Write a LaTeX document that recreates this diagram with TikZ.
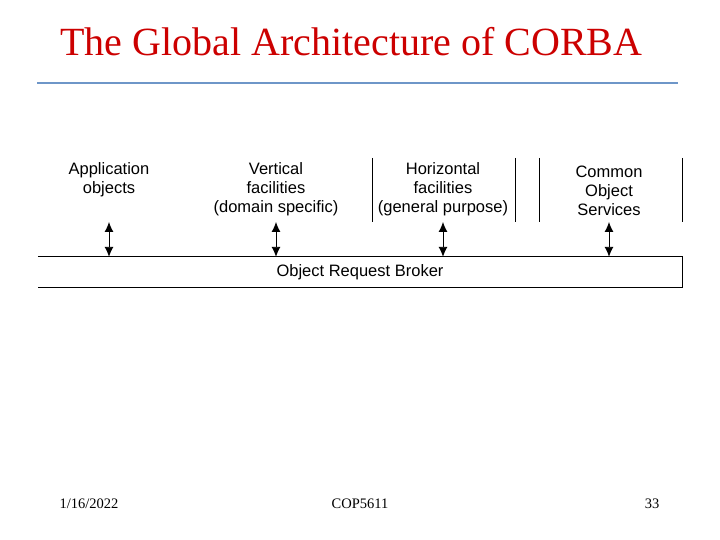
\documentclass[tikz,border=0pt]{standalone}
\usepackage{fontspec}
\setmainfont{Liberation Serif}
\setsansfont{Liberation Sans}
\usetikzlibrary{arrows.meta, positioning}
\definecolor{titelrot}{RGB}{204, 0, 0}
\definecolor{linieblau}{RGB}{110, 150, 200}
\tikzset{
    layer/.style={font=\sffamily\fontsize{16.5}{19}\selectfont, align=center, inner sep=0pt},
    sep/.style={-, black, line width=0.8pt},
    link/.style={{Latex[length=10pt,width=9pt]}-{Latex[length=10pt,width=9pt]}, line width=0.9pt},
    foot/.style={font=\fontsize{14.5}{16}\selectfont, inner sep=0pt},
}
\begin{document}
\begin{tikzpicture}[x=1pt, y=-1pt]
    \useasboundingbox (0,0) rectangle (720,540);
    \node [anchor=west, text=titelrot, inner sep=0pt, font=\fontsize{40}{44}\selectfont] (title) at (60,42) {The Global Architecture of CORBA};
    \draw [linieblau, line width=1.2pt] (37,83) -- (678,83);

    \node [layer] (app) at (109,180) {Application\\objects};
    \node [layer] (vert) at (276,189) {Vertical\\facilities\\(domain specific)};
    \node [layer] (horiz) at (443,189) {Horizontal\\facilities\\(general purpose)};
    \node [layer] (cos) at (609,191) {Common\\Object\\Services};

    \draw [sep] (372,158) -- (372,222);
    \draw [sep] (515,158) -- (515,222);
    \draw [sep] (539,158) -- (539,222);
    \draw [sep] (682,158) -- (682,222);

    % broker bar, open on the left
    \node [layer, minimum width=644pt, minimum height=30pt] (orb) at (360,272) {Object Request Broker};
    \draw [sep] (orb.north west) -- (orb.north east) -- (orb.south east) -- (orb.south west);

    \foreach \n/\x in {app/109, vert/276, horiz/443, cos/609} {
        \coordinate (\n top) at (\x,222);
        \draw [link] (\n top) -- (orb.north -| \n top);
    }

    \node [foot] (date) at (89,504) {1/16/2022};
    \node [foot] (course) at (360,504) {COP5611};
    \node [foot] (page) at (652,504) {33};
\end{tikzpicture}
\end{document}
